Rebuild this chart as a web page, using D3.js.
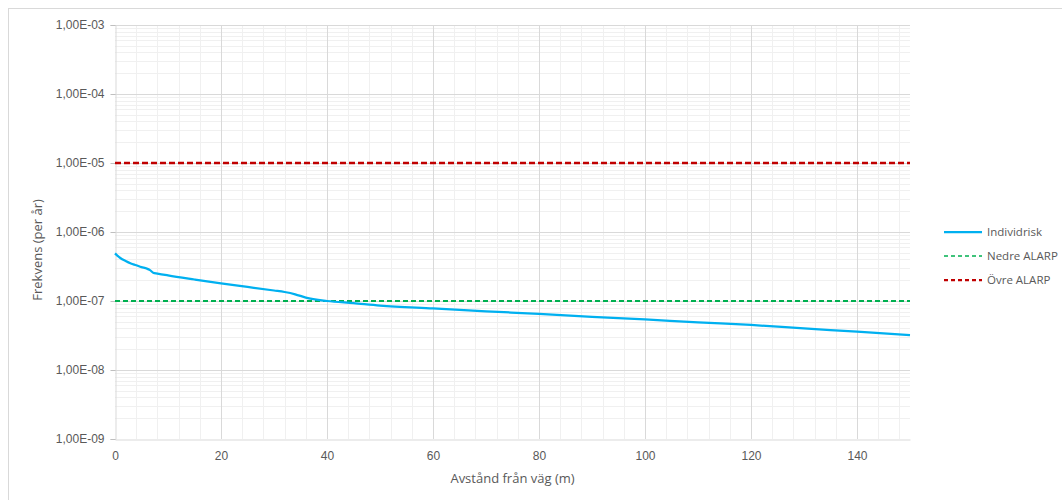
<!DOCTYPE html>
<html>
<head>
<meta charset="utf-8">
<script src="https://cdn.jsdelivr.net/npm/d3@7"></script>
<style>
  body { margin: 0; background: #fff; }
  svg { font-family: "Open Sans", "Liberation Sans", sans-serif; }
</style>
</head>
<body>
<div id="chart"></div>
<script>
// distance from road (m) and individual risk per year
var distance = [0, 0.5, 1, 2, 3, 4, 5, 6, 6.6, 7.2, 8, 10, 15, 20, 25, 30, 32, 34, 36, 40, 45, 50, 60, 70, 80, 90, 100, 110, 120, 130, 140, 150];
var individrisk = [4.9e-7, 4.5e-7, 4.2e-7, 3.8e-7, 3.5e-7, 3.3e-7, 3.1e-7, 2.95e-7, 2.8e-7, 2.57e-7, 2.5e-7, 2.35e-7, 2.05e-7, 1.8e-7, 1.6e-7, 1.42e-7, 1.35e-7, 1.25e-7, 1.12e-7, 1.0e-7, 9.3e-8, 8.6e-8, 7.8e-8, 7.1e-8, 6.5e-8, 5.9e-8, 5.4e-8, 4.9e-8, 4.5e-8, 4.0e-8, 3.6e-8, 3.2e-8];
var nedreAlarp = 1e-7;
var ovreAlarp = 1e-5;
var xTicks = [0, 20, 40, 60, 80, 100, 120, 140];
var yTicks = [1e-9, 1e-8, 1e-7, 1e-6, 1e-5, 1e-4, 1e-3];
var seriesNames = ["Individrisk", "Nedre ALARP", "Övre ALARP"];

var width = 1062,
    height = 500;
var margin = {left: 115, top: 25, right: 152, bottom: 61};

var svg = d3.select("#chart").append("svg")
    .attr("width", width)
    .attr("height", height);

// outer chart border
svg.append("rect")
    .attr("x", 8.5).attr("y", 8.5)
    .attr("width", 1100).attr("height", 600)
    .attr("fill", "none")
    .attr("stroke", "#d9d9d9");

var x = d3.scaleLinear()
    .domain([0, 150])
    .range([margin.left, width - margin.right]);

var y = d3.scaleLog()
    .domain([1e-9, 1e-3])
    .range([height - margin.bottom, margin.top]);

// minor gridlines
var minorX = d3.range(0, 151, 4).filter(function(d) { return d % 20 != 0; });
var minorY = [];
yTicks.slice(0, -1).forEach(function(t) {
    for (var k = 2; k <= 9; k++) minorY.push(t * k);
});

var grid = svg.append("g");
grid.selectAll(".mx").data(minorX).enter().append("line")
    .attr("x1", function(d) { return Math.round(x(d)) + 0.5; })
    .attr("x2", function(d) { return Math.round(x(d)) + 0.5; })
    .attr("y1", y(1e-3)).attr("y2", y(1e-9))
    .attr("stroke", "#f0f0f0");
grid.selectAll(".my").data(minorY).enter().append("line")
    .attr("x1", x(0)).attr("x2", x(150))
    .attr("y1", function(d) { return Math.round(y(d)) + 0.5; })
    .attr("y2", function(d) { return Math.round(y(d)) + 0.5; })
    .attr("stroke", "#f0f0f0");
// major gridlines
grid.selectAll(".Mx").data(xTicks.slice(1)).enter().append("line")
    .attr("x1", function(d) { return Math.round(x(d)) + 0.5; })
    .attr("x2", function(d) { return Math.round(x(d)) + 0.5; })
    .attr("y1", y(1e-3)).attr("y2", y(1e-9))
    .attr("stroke", "#d9d9d9");
grid.selectAll(".My").data(yTicks.slice(1)).enter().append("line")
    .attr("x1", x(0)).attr("x2", x(150))
    .attr("y1", function(d) { return Math.round(y(d)) + 0.5; })
    .attr("y2", function(d) { return Math.round(y(d)) + 0.5; })
    .attr("stroke", "#d9d9d9");

// axes
var fmt = function(d) {
    var e = Math.round(Math.log10(d));
    var s = Math.abs(e) < 10 ? "0" + Math.abs(e) : "" + Math.abs(e);
    return "1,00E" + (e < 0 ? "-" : "+") + s;
};

var yAxis = svg.append("g")
    .attr("transform", "translate(" + (x(0) + 0.5) + ",0)")
    .call(d3.axisLeft(y).tickValues(yTicks).tickFormat(fmt).tickSize(5).tickPadding(6));
var xAxis = svg.append("g")
    .attr("transform", "translate(0," + (Math.round(y(1e-9)) + 0.5) + ")")
    .call(d3.axisBottom(x).tickValues(xTicks).tickSize(0).tickPadding(12));

[yAxis, xAxis].forEach(function(a) {
    a.selectAll("path, line").attr("stroke", "#d9d9d9");
    a.selectAll("text").attr("fill", "#595959").style("font-size", "12px");
    a.select(".domain").attr("stroke", "#d9d9d9");
});
yAxis.selectAll(".tick line").attr("stroke", "#bfbfbf");

// axis titles
svg.append("text")
    .attr("x", (x(0) + x(150)) / 2)
    .attr("y", 483)
    .attr("text-anchor", "middle")
    .attr("fill", "#595959")
    .style("font-size", "13px")
    .text("Avstånd från väg (m)");

svg.append("text")
    .attr("transform", "translate(42," + y(1e-6 * 0.55) + ") rotate(-90)")
    .attr("text-anchor", "middle")
    .attr("fill", "#595959")
    .style("font-size", "13px")
    .text("Frekvens (per år)");

// reference lines
svg.append("line")
    .attr("x1", x(0)).attr("x2", x(150))
    .attr("y1", y(ovreAlarp)).attr("y2", y(ovreAlarp))
    .attr("stroke", "#c00000")
    .attr("stroke-width", 2.5)
    .attr("stroke-dasharray", "6,3");

svg.append("line")
    .attr("x1", x(0)).attr("x2", x(150))
    .attr("y1", y(nedreAlarp)).attr("y2", y(nedreAlarp))
    .attr("stroke", "#00b050")
    .attr("stroke-width", 2)
    .attr("stroke-dasharray", "5,3");

// risk curve
var line = d3.line()
    .x(function(d, i) { return x(distance[i]); })
    .y(function(d) { return y(d); })
    .curve(d3.curveMonotoneX);

svg.append("path")
    .datum(individrisk)
    .attr("d", line)
    .attr("fill", "none")
    .attr("stroke", "#00b0f0")
    .attr("stroke-width", 2.25);

// legend
var legendStyles = [
    {color: "#00b0f0", dash: null, w: 2.25},
    {color: "#00b050", dash: "4,3", w: 1.5},
    {color: "#c00000", dash: "4,3", w: 2.25}
];
var legend = svg.append("g").attr("transform", "translate(944,232)");
var item = legend.selectAll("g").data(seriesNames).enter().append("g")
    .attr("transform", function(d, i) { return "translate(0," + i * 24 + ")"; });
item.append("line")
    .attr("x1", 0).attr("x2", 38)
    .attr("stroke", function(d, i) { return legendStyles[i].color; })
    .attr("stroke-width", function(d, i) { return legendStyles[i].w; })
    .attr("stroke-dasharray", function(d, i) { return legendStyles[i].dash; });
item.append("text")
    .attr("x", 43).attr("dy", "0.35em")
    .attr("fill", "#595959")
    .style("font-size", "11.5px")
    .text(function(d) { return d; });
</script>
</body>
</html>
